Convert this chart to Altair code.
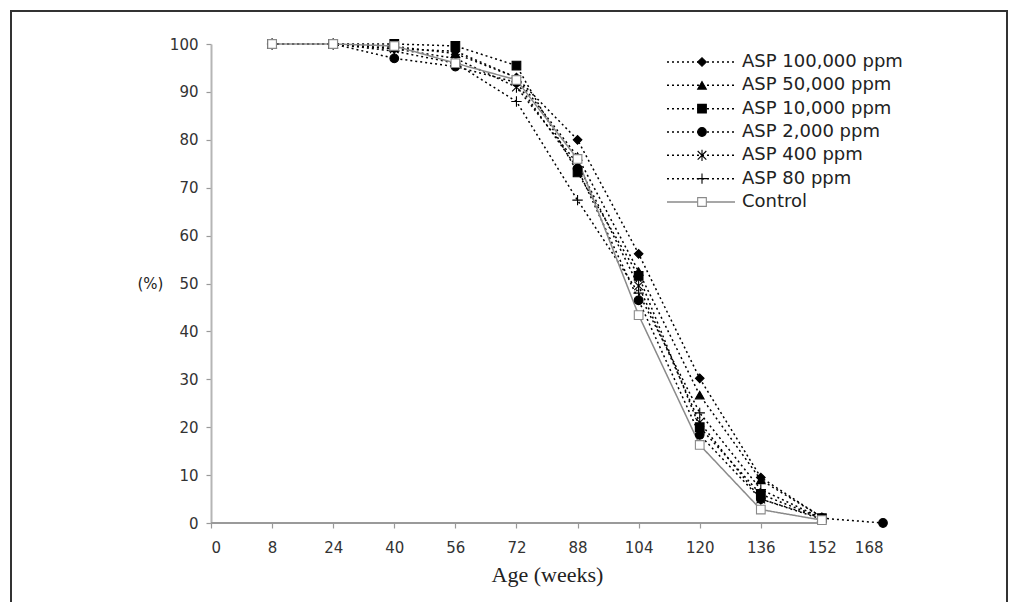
import altair as alt
import pandas as pd

# ---- data ----
tick_labels = ["0", "8", "24", "40", "56", "72", "88", "104", "120", "136", "152", "168"]
ages = [8, 24, 40, 56, 72, 88, 104, 120, 136, 152, 168]

series = ["ASP 100,000 ppm", "ASP 50,000 ppm", "ASP 10,000 ppm", "ASP 2,000 ppm",
          "ASP 400 ppm", "ASP 80 ppm", "Control"]

asp_100000 = [100, 100, 99.0, 98.5, 93.0, 80.0, 56.2, 30.2, 9.5, 1.2]
asp_50000 = [100, 100, 99.5, 98.0, 93.0, 76.5, 52.5, 26.7, 9.0, 1.2]
asp_10000 = [100, 100, 100, 99.6, 95.5, 73.2, 51.6, 20.0, 6.0, 1.0]
asp_2000 = [100, 100, 97.0, 95.3, 92.0, 74.0, 46.5, 18.4, 5.0, 1.0, 0.0]
asp_400 = [100, 100, 99.0, 97.0, 91.0, 75.0, 49.5, 21.0, 5.0, 0.8]
asp_80 = [100, 100, 98.5, 96.0, 88.0, 67.4, 48.0, 23.0, 7.0, 1.0]
control = [100, 100, 99.6, 96.0, 92.5, 76.0, 43.4, 16.3, 2.8, 0.6]

values = [asp_100000, asp_50000, asp_10000, asp_2000, asp_400, asp_80, control]

rows = []
for s, vals in zip(series, values):
    for a, v in zip(ages, vals):
        rows.append({"series": s, "age": a, "pos": tick_labels.index(str(a)), "value": v})
df = pd.DataFrame(rows)
legend_df = pd.DataFrame({"series": series})

# ---- styles ----
shapes = ["diamond", "triangle-up", "square", "circle",
          "M-1,-1L1,1M-1,1L1,-1M0,-1.3L0,1.3",
          "M-1.2,0L1.2,0M0,-1.2L0,1.2",
          "square"]
fills = ["black", "black", "black", "black", "transparent", "transparent", "white"]
strokes = ["black", "black", "black", "black", "#333333", "#888888", "#777777"]
sizes = [75, 75, 70, 75, 45, 70, 75]
line_colors = ["black"] * 6 + ["#8a8a8a"]
dashes = [[2, 3]] * 6 + [[1, 0]]

color_scale = alt.Scale(domain=series, range=line_colors)
dash_scale = alt.Scale(domain=series, range=dashes)
shape_scale = alt.Scale(domain=series, range=shapes)
fill_scale = alt.Scale(domain=series, range=fills)
stroke_scale = alt.Scale(domain=series, range=strokes)
size_scale = alt.Scale(domain=series, range=sizes)

label_expr = "[" + ",".join("'%s'" % t for t in tick_labels) + "][datum.value]"

x_enc = alt.X("pos:Q", scale=alt.Scale(domain=[0, 11], nice=False, zero=False),
              axis=alt.Axis(values=list(range(12)), labelExpr=label_expr,
                            title="Age (weeks)", domain=False,
                            tickOpacity={"condition": {"test": "datum.value > 9", "value": 0}, "value": 1},
                            titleFont="Liberation Serif", titleFontSize=22,
                            titleFontWeight="normal", titleColor="#222222",
                            titlePadding=9, labelPadding=12, tickSize=5))
y_enc = alt.Y("value:Q", scale=alt.Scale(domain=[0, 100], nice=False),
              axis=alt.Axis(values=list(range(0, 101, 10)), title="(%)",
                            titleAngle=0, titleX=-61, titleY=239,
                            titleAlign="center", titleBaseline="middle",
                            titleFont="DejaVu Sans", titleFontSize=15,
                            titleFontWeight="normal", titleColor="#222222",
                            labelPadding=8, tickSize=5))

lines = alt.Chart(df).mark_line(strokeWidth=1.5).encode(
    x=x_enc, y=y_enc,
    stroke=alt.Stroke("series:N", scale=color_scale, legend=None),
    strokeDash=alt.StrokeDash("series:N", scale=dash_scale, legend=None),
    detail="series:N",
    order="pos:Q",
)

points = alt.Chart(df).mark_point(filled=True, opacity=1, fillOpacity=1, strokeWidth=1.1).encode(
    x="pos:Q", y="value:Q",
    shape=alt.Shape("series:N", scale=shape_scale, legend=None),
    fill=alt.Fill("series:N", scale=fill_scale, legend=None),
    stroke=alt.Stroke("series:N", scale=stroke_scale, legend=None),
    size=alt.Size("series:N", scale=size_scale, legend=None),
)

x_domain = alt.Chart(df).mark_rule(color="#9a9a9a", strokeWidth=1.5).encode(
    x=alt.datum(0), x2=alt.datum(10), y=alt.datum(0)
)

main = alt.layer(lines, x_domain, points)

# ---- legend drawn as marks ----
leg_y = alt.Y("series:N", scale=alt.Scale(type="point", domain=series, range=[18, 158], padding=0),
              axis=None)
leg_lines = alt.Chart(legend_df).mark_rule(strokeWidth=1.5).encode(
    x=alt.value(456), x2=alt.value(524), y=leg_y,
    stroke=alt.Stroke("series:N", scale=color_scale, legend=None),
    strokeDash=alt.StrokeDash("series:N", scale=dash_scale, legend=None),
)
leg_points = alt.Chart(legend_df).mark_point(filled=True, opacity=1, fillOpacity=1, strokeWidth=1.1).encode(
    x=alt.value(491), y=leg_y,
    shape=alt.Shape("series:N", scale=shape_scale, legend=None),
    fill=alt.Fill("series:N", scale=fill_scale, legend=None),
    stroke=alt.Stroke("series:N", scale=stroke_scale, legend=None),
    size=alt.Size("series:N", scale=size_scale, legend=None),
)
leg_text = alt.Chart(legend_df).mark_text(align="left", baseline="middle", font="DejaVu Sans",
                                          fontSize=18, color="#222222").encode(
    x=alt.value(531), y=leg_y, text="series:N"
)
legend = alt.layer(leg_lines, leg_points, leg_text)

border = alt.Chart(legend_df).mark_rect(fillOpacity=0, stroke="#333333", strokeWidth=1.5).encode(
    x=alt.value(-200), x2=alt.value(796), y=alt.value(-33), y2=alt.value(580)
)

chart = alt.layer(main, legend, border).resolve_scale(y="independent").properties(
    width=672, height=479,
    padding={"left": 203, "top": 36, "right": 127, "bottom": 79},
    autosize=alt.AutoSizeParams(type="none"),
    background="white",
).configure_view(stroke=None).configure_axis(
    labelFont="DejaVu Sans", labelFontSize=15, labelColor="#333333",
    domainColor="#b5b5b5", domainWidth=2, tickColor="#999999", tickWidth=1.2,
    grid=False,
)

chart.save("out.html", embed_options={"renderer": "svg", "actions": False})
